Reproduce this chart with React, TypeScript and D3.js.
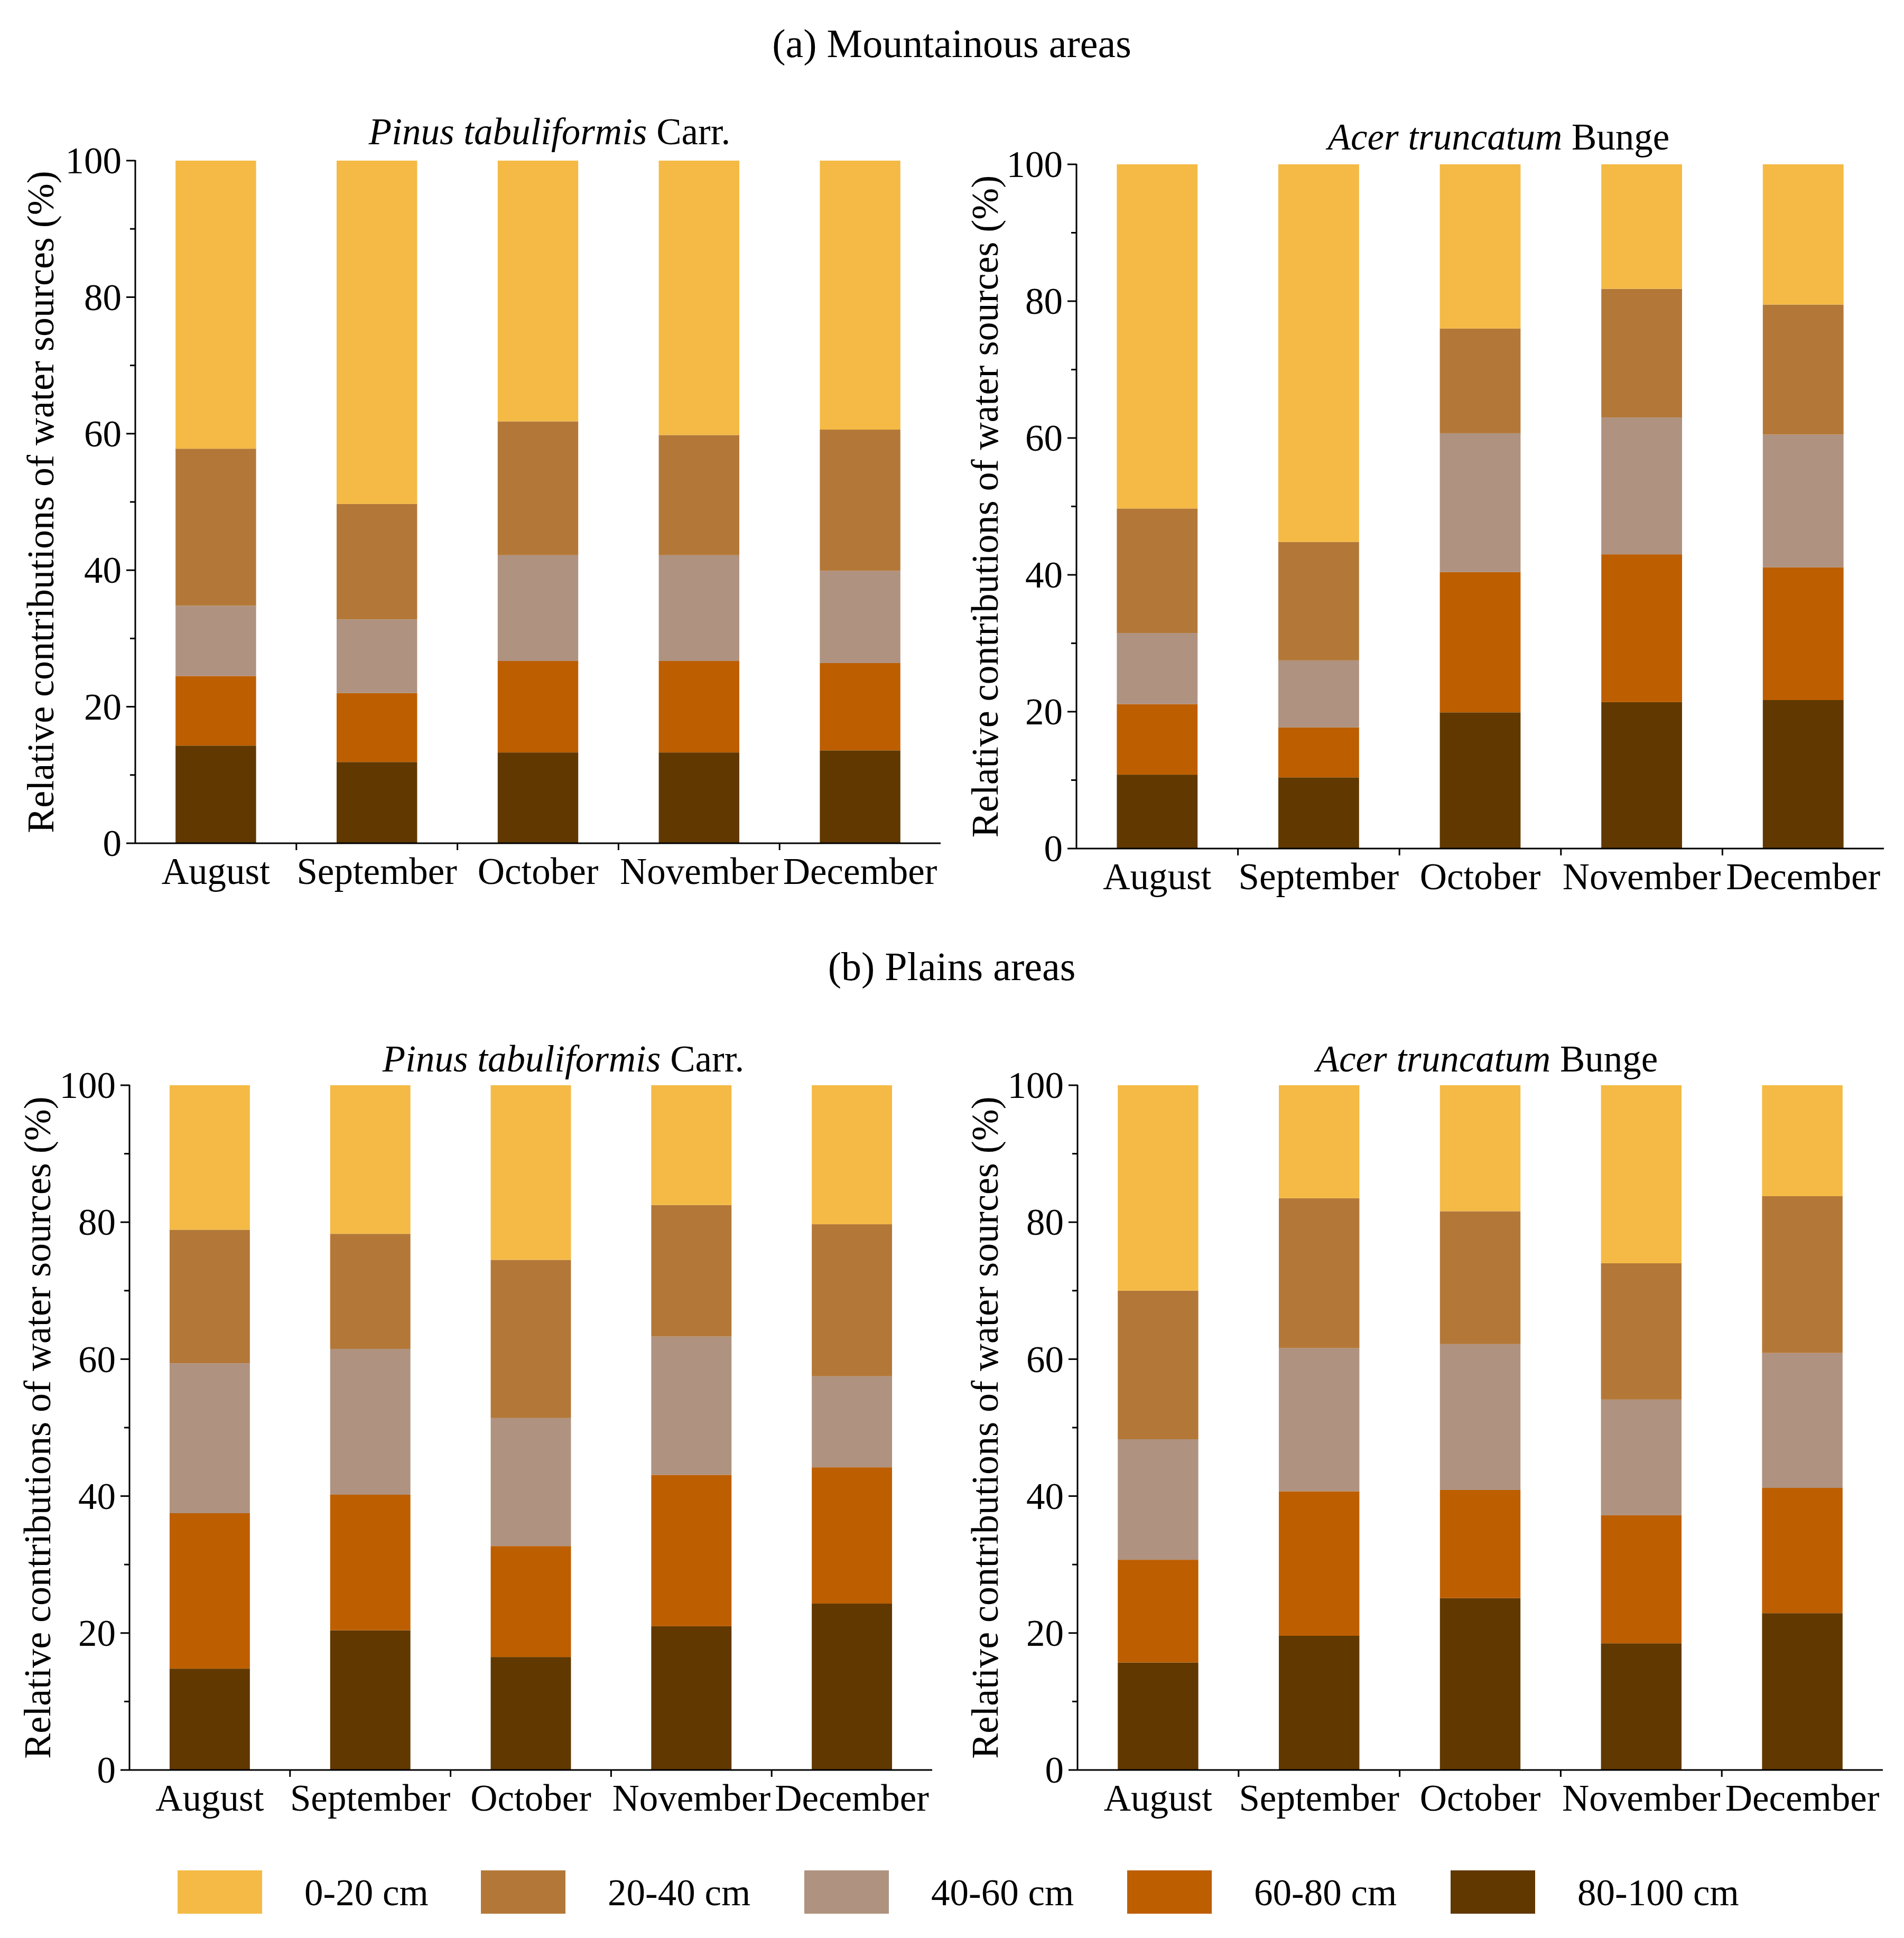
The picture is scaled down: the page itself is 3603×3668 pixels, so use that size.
import React, { useEffect } from "react";
import * as d3 from "d3";

const months = ["August", "September", "October", "November", "December"];
const layerKeys = ["80-100 cm", "60-80 cm", "40-60 cm", "20-40 cm", "0-20 cm"];
const legendKeys = ["0-20 cm", "20-40 cm", "40-60 cm", "60-80 cm", "80-100 cm"];
const layerColors: Record<string, string> = {
  "0-20 cm": "#F4BA45",
  "20-40 cm": "#B37838",
  "40-60 cm": "#AF9280",
  "60-80 cm": "#BD5E00",
  "80-100 cm": "#603800",
};

// Mountainous – Pinus tabuliformis
const mtPinus_80_100 = [14.3, 11.9, 13.3, 13.3, 13.6];
const mtPinus_60_80 = [10.2, 10.1, 13.4, 13.4, 12.8];
const mtPinus_40_60 = [10.3, 10.8, 15.5, 15.5, 13.5];
const mtPinus_20_40 = [23.0, 16.9, 19.6, 17.6, 20.7];
const mtPinus_0_20 = [42.2, 50.3, 38.2, 40.2, 39.4];

// Mountainous – Acer truncatum
const mtAcer_80_100 = [10.8, 10.4, 19.9, 21.4, 21.7];
const mtAcer_60_80 = [10.3, 7.3, 20.5, 21.6, 19.4];
const mtAcer_40_60 = [10.4, 9.8, 20.3, 20.0, 19.4];
const mtAcer_20_40 = [18.2, 17.3, 15.3, 18.8, 19.0];
const mtAcer_0_20 = [50.3, 55.2, 24.0, 18.2, 20.5];

// Plains – Pinus tabuliformis
const plPinus_80_100 = [14.8, 20.4, 16.5, 21.0, 24.3];
const plPinus_60_80 = [22.7, 19.8, 16.2, 22.1, 19.9];
const plPinus_40_60 = [21.9, 21.3, 18.7, 20.2, 13.3];
const plPinus_20_40 = [19.5, 16.8, 23.1, 19.2, 22.2];
const plPinus_0_20 = [21.1, 21.7, 25.5, 17.5, 20.3];

// Plains – Acer truncatum
const plAcer_80_100 = [15.7, 19.6, 25.1, 18.5, 22.9];
const plAcer_60_80 = [15.0, 21.1, 15.8, 18.7, 18.3];
const plAcer_40_60 = [17.6, 20.9, 21.3, 16.9, 19.7];
const plAcer_20_40 = [21.7, 21.9, 19.4, 19.9, 22.9];
const plAcer_0_20 = [30.0, 16.5, 18.4, 26.0, 16.2];

const yMinorTicks = [10, 30, 50, 70, 90];

const FONT = "'Liberation Serif', 'Times New Roman', Times, serif";

function buildRows(series: number[][]) {
  return months.map((m, i) => {
    const row: Record<string, any> = { month: m };
    layerKeys.forEach((k, j) => (row[k] = series[j][i]));
    return row;
  });
}

type PanelProps = {
  x0: number; x1: number; yTop: number; yBot: number;
  series: number[][];
  italic: string; rest: string;
  titleX: number; titleY: number;
  labelX: number;
};

function Panel(p: PanelProps) {
  const x = d3.scaleBand<string>().domain(months).range([p.x0, p.x1]).paddingInner(0.5).paddingOuter(0.25);
  const y = d3.scaleLinear().domain([0, 100]).range([p.yBot, p.yTop]);
  const stacked = d3.stack<any>().keys(layerKeys)(buildRows(p.series));
  const step = x.step();
  const boundaries = months.slice(1).map((m) => (x(m) as number) - step * 0.25);
  const midY = (p.yTop + p.yBot) / 2;
  return (
    <g>
      {stacked.map((layer) => (
        <g key={layer.key} fill={layerColors[layer.key]}>
          {layer.map((d, i) => (
            <rect key={i} x={x(months[i])} width={x.bandwidth()} y={y(d[1])} height={y(d[0]) - y(d[1])} />
          ))}
        </g>
      ))}
      <line x1={p.x0} x2={p.x0} y1={p.yTop - 1} y2={p.yBot} stroke="#000" strokeWidth={3} />
      <line x1={p.x0} x2={p.x1} y1={p.yBot} y2={p.yBot} stroke="#000" strokeWidth={3} />
      {y.ticks(5).map((t) => (
        <g key={t}>
          <line x1={p.x0 - 17} x2={p.x0} y1={y(t)} y2={y(t)} stroke="#000" strokeWidth={3} />
          <text x={p.x0 - 26} y={y(t)} dy="0.34em" textAnchor="end" fontSize={71} fontFamily={FONT}>{t}</text>
        </g>
      ))}
      {yMinorTicks.map((t) => (
        <line key={t} x1={p.x0 - 10} x2={p.x0} y1={y(t)} y2={y(t)} stroke="#000" strokeWidth={3} />
      ))}
      {boundaries.map((bx, i) => (
        <line key={i} x1={bx} x2={bx} y1={p.yBot} y2={p.yBot + 13} stroke="#000" strokeWidth={3} />
      ))}
      {months.map((m) => (
        <text key={m} x={(x(m) as number) + x.bandwidth() / 2} y={p.yBot + 77} textAnchor="middle" fontSize={71} fontFamily={FONT}>{m}</text>
      ))}
      <text transform={`translate(${p.labelX},${midY}) rotate(-90)`} textAnchor="middle" dy="0.35em" fontSize={72} fontFamily={FONT}>
        Relative contributions of water sources (%)
      </text>
      <text x={p.titleX} y={p.titleY} textAnchor="middle" fontSize={71} fontFamily={FONT}>
        <tspan fontStyle="italic">{p.italic}</tspan>
        <tspan>{" " + p.rest}</tspan>
      </text>
    </g>
  );
}

export default function App() {
  useEffect(() => {
    document.body.style.margin = "0";
  }, []);
  const W = 3603, H = 3668;
  const legendX = [336, 910, 1522, 2133, 2745];
  return (
    <svg width={W} height={H} viewBox={`0 0 ${W} ${H}`} style={{ display: "block", background: "#fff" }}>
      <rect width={W} height={H} fill="#fff" />
      <text x={1801} y={108} textAnchor="middle" fontSize={76} fontFamily={FONT}>(a) Mountainous areas</text>
      <text x={1801} y={1855} textAnchor="middle" fontSize={76} fontFamily={FONT}>(b) Plains areas</text>
      <Panel x0={256} x1={1780} yTop={304} yBot={1596}
        series={[mtPinus_80_100, mtPinus_60_80, mtPinus_40_60, mtPinus_20_40, mtPinus_0_20]}
        italic="Pinus tabuliformis" rest="Carr." titleX={1040} titleY={273} labelX={76} />
      <Panel x0={2037} x1={3565} yTop={311} yBot={1606}
        series={[mtAcer_80_100, mtAcer_60_80, mtAcer_40_60, mtAcer_20_40, mtAcer_0_20]}
        italic="Acer truncatum" rest="Bunge" titleX={2836} titleY={283} labelX={1863} />
      <Panel x0={245} x1={1764} yTop={2054} yBot={3350}
        series={[plPinus_80_100, plPinus_60_80, plPinus_40_60, plPinus_20_40, plPinus_0_20]}
        italic="Pinus tabuliformis" rest="Carr." titleX={1066} titleY={2028} labelX={70} />
      <Panel x0={2039} x1={3563} yTop={2054} yBot={3350}
        series={[plAcer_80_100, plAcer_60_80, plAcer_40_60, plAcer_20_40, plAcer_0_20]}
        italic="Acer truncatum" rest="Bunge" titleX={2814} titleY={2028} labelX={1863} />
      {legendKeys.map((k, i) => (
        <g key={k}>
          <rect x={legendX[i]} y={3540} width={160} height={82} fill={layerColors[k]} />
          <text x={legendX[i] + 240} y={3581} dy="0.35em" fontSize={71} fontFamily={FONT}>{k}</text>
        </g>
      ))}
    </svg>
  );
}
